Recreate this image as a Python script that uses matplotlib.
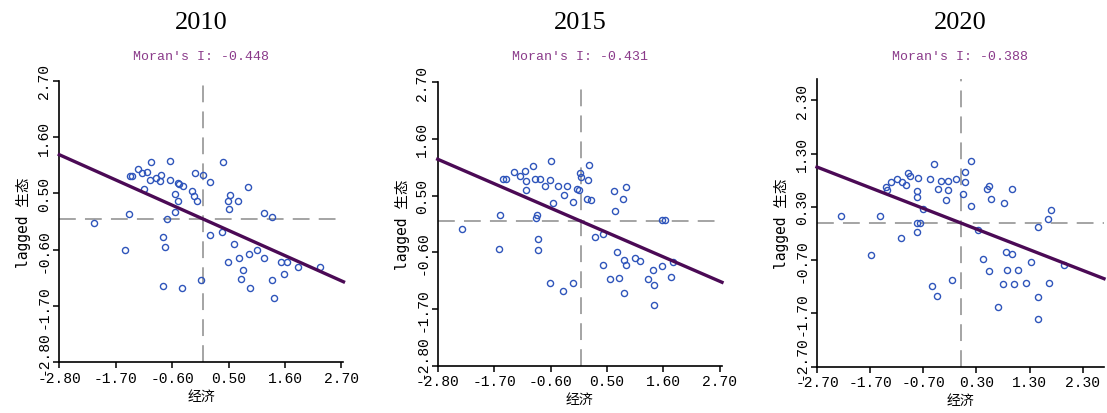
import matplotlib
matplotlib.use('Agg')
import matplotlib.pyplot as plt
import matplotlib.transforms as mtransforms
import numpy as np

# Moran scatter plots (GeoDa style).

years = ['2010', '2015', '2020']
morans_i = [-0.448, -0.431, -0.388]

x_2010 = [-2.13, -1.45, -1.52, -1.42, -1.39, -1.27, -1.19, -1.09, -1.01, -1.04,
          -1.14, -0.91, -0.84, -0.81, -0.65, -0.65, -0.49, -0.47, -0.39, -0.54,
          -0.48, -0.54, -0.70, -0.78, -0.73, -0.78, -0.40, -0.16, 0.00, 0.13,
          -0.21, -0.18, -0.12, 0.13, -0.03, 0.40, 0.53, 0.48, 0.51, 0.69,
          0.87, 0.38, 0.61, 0.71, 0.49, 0.89, 1.05, 0.79, 0.74, 0.91,
          1.20, 1.34, 1.20, 1.52, 1.63, 1.58, 1.34, 1.38, 1.86, 2.29]
y_2010 = [-0.08, 0.09, -0.61, 0.83, 0.83, 0.98, 0.89, 0.92, 1.11, 0.77,
          0.59, 0.80, 0.74, 0.85, 1.13, 0.77, 0.70, 0.68, 0.65, 0.49,
          0.35, 0.14, -0.01, -0.36, -0.54, -1.30, -1.35, 0.90, 0.86, 0.73,
          0.55, 0.45, 0.35, -0.31, -1.19, 1.11, 0.47, 0.35, 0.20, 0.35,
          0.63, -0.26, -0.49, -0.76, -0.84, -0.69, -0.61, -0.99, -1.17, -1.35,
          0.12, 0.04, -0.76, -0.84, -0.84, -1.07, -1.19, -1.55, -0.94, -0.94]

x_2015 = [-2.32, -1.58, -1.61, -1.52, -1.47, -1.32, -1.20, -1.10, -1.07, -1.07,
          -0.94, -0.90, -0.80, -0.71, -0.61, -0.59, -0.56, -0.46, -0.33, -0.28,
          -0.16, -0.08, -0.05, -0.03, -0.01, 0.12, 0.15, 0.10, 0.18, -0.86,
          -0.89, -0.84, -0.84, -0.61, -0.36, -0.16, 0.27, 0.42, 0.63, 0.87,
          0.81, 0.66, 0.69, 0.43, 0.56, 0.73, 0.84, 0.87, 0.84, 1.04,
          1.14, 1.29, 1.39, 1.42, 1.42, 1.57, 1.75, 1.78, 1.58, 1.63]
y_2015 = [-0.15, 0.12, -0.53, 0.83, 0.83, 0.96, 0.89, 0.98, 0.79, 0.61,
          1.07, 0.83, 0.83, 0.69, 0.81, 1.17, 0.36, 0.69, 0.51, 0.69,
          0.38, 0.63, 0.61, 0.94, 0.87, 0.81, 1.09, 0.44, 0.41, 0.12,
          0.06, -0.35, -0.56, -1.20, -1.35, -1.20, -0.30, -0.25, 0.59, 0.66,
          0.44, 0.21, -0.59, -0.84, -1.12, -1.09, -0.74, -0.84, -1.39, -0.71,
          -0.76, -1.11, -0.94, -1.24, -1.63, -0.87, -1.07, -0.79, 0.03, 0.03]

x_2020 = [-2.24, -1.51, -1.68, -1.12, -1.40, -1.39, -1.31, -1.19, -1.10, -1.02,
          -0.99, -0.95, -0.80, -0.82, -0.82, -0.71, -0.82, -0.76, -0.82, -0.58,
          -0.50, -0.43, -0.36, -0.23, -0.24, -0.28, -0.09, -0.53, -0.45, -0.16,
          0.04, 0.08, 0.08, 0.19, 0.19, 0.33, 0.53, 0.50, 0.58, 0.82,
          0.97, 0.43, 0.53, 0.85, 0.97, 0.87, 1.09, 0.80, 1.00, 0.70,
          1.32, 1.24, 1.46, 1.64, 1.71, 1.46, 1.46, 1.66, 1.95]
y_2020 = [0.12, 0.12, -0.61, -0.29, 0.68, 0.62, 0.76, 0.83, 0.77, 0.71,
          0.93, 0.87, 0.85, 0.59, 0.49, 0.26, 0.00, 0.00, -0.17, 0.83,
          1.10, 0.64, 0.78, 0.78, 0.61, 0.42, 0.83, -1.19, -1.38, -1.07,
          0.54, 0.95, 0.76, 1.17, 0.32, -0.14, 0.69, 0.64, 0.44, 0.37,
          0.64, -0.68, -0.90, -0.54, -0.59, -0.88, -0.88, -1.15, -1.15, -1.58,
          -0.73, -1.12, -0.07, 0.07, 0.24, -1.39, -1.80, -1.12, -0.80]

xs = [x_2010, x_2015, x_2020]
ys = [y_2010, y_2015, y_2020]

ticks_a = [-2.80, -1.70, -0.60, 0.50, 1.60, 2.70]
ticks_b = [-2.70, -1.70, -0.70, 0.30, 1.30, 2.30]
ticks = [ticks_a, ticks_a, ticks_b]
xlims = [(-2.8, 2.74), (-2.8, 2.74), (-2.7, 2.7)]
ylims = [(-2.8, 2.7), (-2.8, 2.7), (-2.7, 2.7)]

# axes boxes in pixels: left, right, top, bottom
boxes = [(59.3, 343.5, 81.7, 363.3),
         (437.7, 722.0, 83.3, 366.7),
         (817.0, 1104.0, 80.0, 367.7)]

W, H = 1107, 414
fig = plt.figure(figsize=(W / 100, H / 100), dpi=100)

mono = 'Liberation Mono'
cjk = ['DejaVu Sans Mono', 'Noto Sans CJK SC']

for i in range(3):
    l, r, t, b = boxes[i]
    ax = fig.add_axes([l / W, 1 - b / H, (r - l) / W, (b - t) / H])
    ax.set_xlim(*xlims[i])
    ax.set_ylim(*ylims[i])

    ax.axhline(0, color='#8c8c8c', lw=1.1, dashes=(11, 6), zorder=1)
    ax.axvline(0, color='#8c8c8c', lw=1.1, dashes=(11, 6), zorder=1)

    ax.plot(xs[i], ys[i], 'o', ms=4.4, mfc='none', mec='#2f55bb', mew=1.0, zorder=2)

    lx = np.array(xlims[i])
    ax.plot(lx, morans_i[i] * lx, color='#4b0a55', lw=2.4, zorder=3, clip_on=False)

    for s in ['top', 'right']:
        ax.spines[s].set_visible(False)
    for s in ['left', 'bottom']:
        ax.spines[s].set_linewidth(1.2)

    ax.set_xticks(ticks[i])
    ax.set_yticks(ticks[i])
    ax.set_xticklabels(['%.2f' % v for v in ticks[i]], fontfamily=mono, fontsize=10.5)
    ax.set_yticklabels(['%.2f' % v for v in ticks[i]], fontfamily=mono,
                       fontsize=10.5, rotation=90, va='center')
    ax.tick_params(direction='out', length=4, width=1.1, pad=2)
    # nudge the lowest y label up a little so it clears the x labels at the corner
    lowest = ax.get_yticklabels()[0]
    lowest.set_transform(lowest.get_transform() +
                         mtransforms.ScaledTranslation(0, 10 / 100, fig.dpi_scale_trans))

    ax.set_xlabel('经济', family=cjk, fontsize=10, labelpad=3)
    ax.set_ylabel('lagged 生态', family=cjk, fontsize=10.5, labelpad=4)

    cx = (l + r) / 2 / W
    fig.text(cx, 1 - 57 / H, "Moran's I: %.3f" % morans_i[i],
             ha='center', va='center', family=mono, fontsize=9.5, color='#8a3a8a')
    fig.text(cx, 1 - 23 / H, years[i], ha='center', va='center',
             family='Liberation Serif', fontsize=19)

fig.savefig('out.png', dpi=100)
